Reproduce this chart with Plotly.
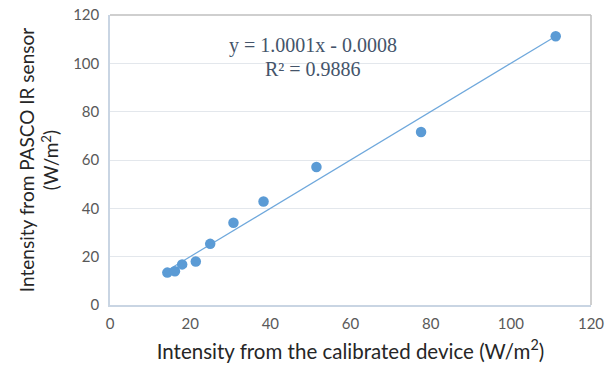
import plotly.graph_objects as go

calibrated = [14.3, 16.2, 18.0, 21.4, 25.0, 30.8, 38.3, 51.5, 77.6, 111.2]
pasco = [13.4, 14.0, 16.8, 18.0, 25.3, 34.0, 42.8, 57.1, 71.6, 111.2]
slope = 1.0001
intercept = -0.0008
eq_lines = ["y = 1.0001x - 0.0008", "R² = 0.9886"]
tick_vals = [0, 20, 40, 60, 80, 100, 120]

fig = go.Figure()
x_fit = [min(calibrated), max(calibrated)]
y_fit = [slope * v + intercept for v in x_fit]
fig.add_trace(go.Scatter(x=x_fit, y=y_fit, mode="lines",
                         line=dict(color="#6fa8dc", width=1.2), hoverinfo="skip"))
fig.add_trace(go.Scatter(x=calibrated, y=pasco, mode="markers",
                         marker=dict(color="#5b9bd5", size=10.5)))

fig.update_layout(
    width=606, height=372,
    margin=dict(l=110, r=15, t=15, b=67),
    plot_bgcolor="white", paper_bgcolor="white",
    showlegend=False,
    font=dict(family="Lato", color="#595959"),
    xaxis=dict(range=[0, 120], tickvals=tick_vals, showgrid=False, zeroline=False,
               showline=True, linecolor="#c9d5e3", linewidth=1.5, automargin=False,
               tickfont=dict(size=15, color="#595959"), ticks="", ticklabelstandoff=4,
               title=dict(text="Intensity from the calibrated device (W/m<sup>2</sup>)",
                          font=dict(size=20.5, color="#262626"), standoff=14)),
    yaxis=dict(range=[0, 120], tickvals=tick_vals, showgrid=True, gridcolor="#e3e7ec",
               zeroline=False, showline=True, linecolor="#c9d5e3", linewidth=1.5,
               automargin=False, ticklabelstandoff=6,
               tickfont=dict(size=15, color="#595959"), ticks="",
               title=dict(text="Intensity from PASCO IR sensor<br>(W/m<sup>2</sup>)",
                          font=dict(size=19, color="#262626"), standoff=9)),
)
# top and right border
fig.add_shape(type="line", xref="paper", yref="paper", x0=0, x1=1, y0=1, y1=1,
              line=dict(color="#bfbfbf", width=1.5))
fig.add_shape(type="line", xref="paper", yref="paper", x0=1, x1=1, y0=0, y1=1,
              line=dict(color="#bfbfbf", width=1.5))

fig.add_annotation(x=50.7, y=107.2, text=eq_lines[0], showarrow=False,
                   font=dict(family="Liberation Serif", size=20, color="#44546a"))
fig.add_annotation(x=50.7, y=97.8, text=eq_lines[1], showarrow=False,
                   font=dict(family="Liberation Serif", size=20, color="#44546a"))

fig.write_html("out.html")
